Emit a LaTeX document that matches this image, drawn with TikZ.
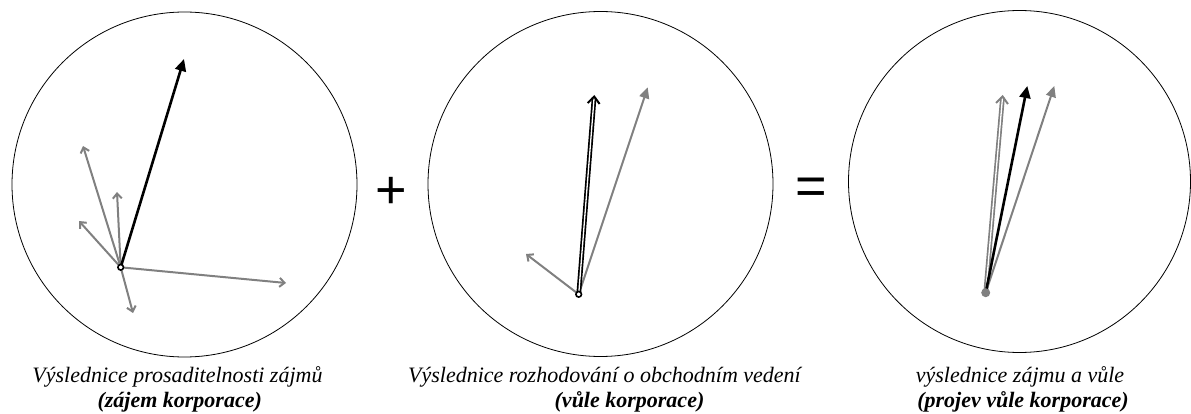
\documentclass[tikz,border=0pt]{standalone}
\usepackage{fontspec}
\setmainfont{Liberation Serif}
\newfontfamily\signfont{Liberation Sans}
\usetikzlibrary{arrows.meta}

\begin{document}
\begin{tikzpicture}[x=1pt,y=-1pt,
    ring/.style={line width=0.8pt},
    thin/.style={draw=black!50,line width=2pt,-{Straight Barb[length=5pt,width=9pt]}},
    sum/.style={draw=black,line width=2.6pt,-{Triangle[length=12pt,width=11pt]}},
    grey sum/.style={draw=black!50,line width=2pt,-{Triangle[length=11pt,width=10pt]}},
    twin/.style={line width=1.7pt,double=white,double distance=1.3pt,-{Straight Barb[length=7pt,width=12pt,line width=2pt]}},
    caption/.style={inner sep=0pt,font=\fontsize{22}{25}\selectfont\itshape},
    boldcaption/.style={inner sep=0pt,font=\fontsize{22}{25}\selectfont\bfseries\itshape},
    sign/.style={inner sep=0pt,font=\fontsize{54}{54}\selectfont\signfont}]
    \useasboundingbox (0,0) rectangle (1191,414);

    % left circle: interests
    \draw[ring] (184.5,184.5) circle[radius=172.5];
    \coordinate (o1) at (120.7,267.3);
    \coordinate (a1) at (83,146);
    \coordinate (b1) at (117,192);
    \coordinate (c1) at (79,221);
    \coordinate (d1) at (286,283);
    \coordinate (e1) at (133,313);
    \coordinate (r1) at (184,59);
    \foreach \t in {a1,b1,c1,d1,e1}
      \draw[thin] (o1) -- (\t);
    \draw[sum] (o1) -- (r1);
    \draw[line width=1.6pt,fill=white] (o1) circle[radius=2.8];

    % plus
    \node[sign] (plus) at (391,193) {+};

    % middle circle: will
    \draw[ring] (600.5,184) circle[radius=172.5];
    \coordinate (o2) at (578.7,294.3);
    \coordinate (a2) at (526,254);
    \coordinate (b2) at (647.7,87.3);
    \coordinate (r2) at (594.3,95);
    \draw[thin] (o2) -- (a2);
    \draw[grey sum] (o2) -- (b2);
    \draw[twin,draw=black] (o2) -- (r2);
    \draw[line width=1.6pt,fill=white] (o2) circle[radius=2.8];

    % equals
    \node[sign] (eq) at (811.7,191.5) {=};

    % right circle: result
    \draw[ring] (1019.5,181.5) circle[radius=171];
    \coordinate (o3) at (985.7,292.7);
    \coordinate (a3) at (1002.7,95);
    \coordinate (b3) at (1054.3,86);
    \coordinate (r3) at (1027.3,86);
    \draw[twin,draw=black!50] (o3) -- (a3);
    \draw[grey sum] (o3) -- (b3);
    \draw[sum] (o3) -- (r3);
    \fill[black!50] (o3) circle[radius=4.5];

    % captions
    \node[caption] (t1) at (177.5,377) {Výslednice prosaditelnosti zájmů};
    \node[boldcaption] (s1) at (179.7,402) {(zájem korporace)};
    \node[caption] (t2) at (604.5,377) {Výslednice rozhodování o obchodním vedení};
    \node[boldcaption] (s2) at (629.5,402) {(vůle korporace)};
    \node[caption] (t3) at (1020,377) {výslednice zájmu a vůle};
    \node[boldcaption] (s3) at (1023,402) {(projev vůle korporace)};
  \end{tikzpicture}
\end{document}
